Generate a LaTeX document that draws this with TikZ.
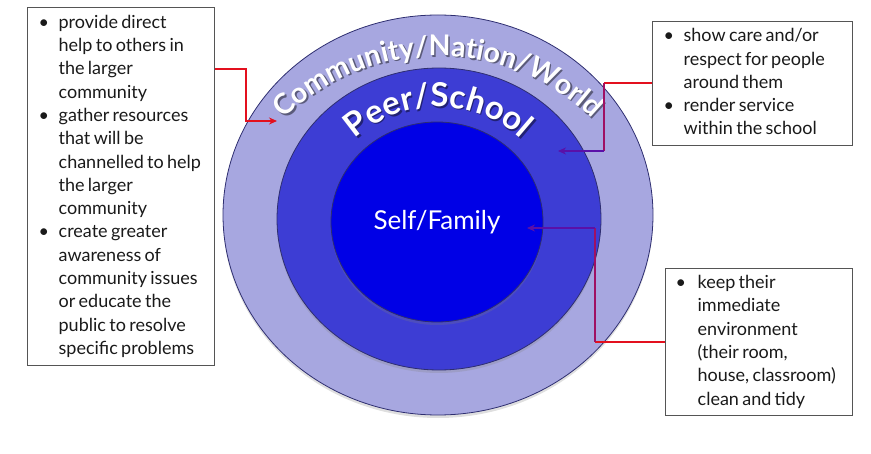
\documentclass[tikz,border=0pt]{standalone}
\usepackage{fontspec}
\setmainfont{Lato}
\usetikzlibrary{decorations.text,shadows,arrows.meta,shapes.geometric}
\definecolor{ringA}{HTML}{A7A7E0}
\definecolor{ringB}{HTML}{3D3DD4}
\definecolor{ringC}{HTML}{0000E6}
\definecolor{ringline}{HTML}{2E2E70}
\definecolor{arrred}{HTML}{E3101E}
\definecolor{arrpur}{HTML}{5A10A8}
\definecolor{boxline}{HTML}{555555}
\definecolor{txt}{HTML}{1A1A1A}
\newcommand{\boxfont}{\fontsize{18}{23.3}\selectfont}
\begin{document}
\begin{tikzpicture}[x=1pt,y=1pt,
  ring/.style={ellipse, draw=ringline, line width=0.8pt, inner sep=0pt,
    drop shadow={shadow xshift=0pt, shadow yshift=-3pt, opacity=0.25}},
  infobox/.style={draw=boxline, line width=1.3pt, fill=white, inner ysep=3pt,
    anchor=north west, text=txt, align=left},
  link/.style={line width=1.4pt},
  tip/.style={-{Stealth[length=8pt,width=7pt]}}
]
\useasboundingbox (0,0) rectangle (871,453);

% rings
\node[ring, fill=ringA, minimum width=430pt, minimum height=400pt] (outer) at (438,238) {};
\node[ring, fill=ringB, minimum width=324pt, minimum height=302pt] (middle) at (439,234) {};
\node[ring, fill=ringC, minimum width=212pt, minimum height=200pt, text=white,
  font=\fontsize{26}{28}\selectfont] (inner) at (437,231) {Self/Family};

% curved labels (shadow, then text)
\begin{scope}[opacity=0.45]
\path[decorate, decoration={text along path, text align=center,
  text={|\fontsize{28.5}{30}\selectfont\bfseries\color{black}|Community/Nation/World}}]
  (439.5,175.5) ++(150:220) arc[start angle=150, end angle=30, radius=220];
\path[decorate, decoration={text along path, text align=center,
  text={|\fontsize{33}{34}\selectfont\bfseries\color{black}|Peer/School}}]
  (439.5,221.5) ++(155:123) arc[start angle=155, end angle=25, radius=123];
\end{scope}
\path[decorate, decoration={text along path, text align=center,
  text={|\fontsize{28.5}{30}\selectfont\bfseries\color{white}|Community/Nation/World}}]
  (438,177) ++(150:220) arc[start angle=150, end angle=30, radius=220];
\path[decorate, decoration={text along path, text align=center,
  text={|\fontsize{33}{34}\selectfont\bfseries\color{white}|Peer/School}}]
  (438,223) ++(155:123) arc[start angle=155, end angle=25, radius=123];

% boxes
\node[infobox, text width=165pt, inner xsep=11pt, minimum height=358pt] (L) at (27,446)
{\boxfont\begin{tabular}{@{}p{20pt}@{}l@{}}
\textbullet & provide direct\\
 & help to others in\\
 & the larger\\
 & community\\
\textbullet & gather resources\\
 & that will be\\
 & channelled to help\\
 & the larger\\
 & community\\
\textbullet & create greater\\
 & awareness of\\
 & community issues\\
 & or educate the\\
 & public to resolve\\
 & specific problems
\end{tabular}};

\node[infobox, text width=178pt, inner xsep=11pt, minimum height=124pt] (TR) at (652,432)
{\boxfont\begin{tabular}{@{}p{20pt}@{}l@{}}
\textbullet & show care and/or\\
 & respect for people\\
 & around them\\
\textbullet & render service\\
 & within the school
\end{tabular}};

\node[infobox, text width=167pt, inner xsep=10pt, minimum height=147pt] (BR) at (665,185)
{\boxfont\begin{tabular}{@{}p{22pt}@{}l@{}}
\textbullet & keep their\\
 & immediate\\
 & environment\\
 & (their room,\\
 & house, classroom)\\
 & clean and tidy
\end{tabular}};

% connector points
\coordinate (s1) at (L.east |- 0,384);
\coordinate (k1) at (246,332);
\coordinate (t1) at (277,332);
\coordinate (s2) at (TR.west |- 0,370);
\coordinate (k2a) at (604,370);
\coordinate (k2b) at (604,302);
\coordinate (t2) at (558,302);
\coordinate (s3) at (BR.west |- 0,111);
\coordinate (k3a) at (595,111);
\coordinate (k3b) at (595,225);
\coordinate (t3) at (527,225);

\draw[link, arrred, tip] (s1) -| (k1) -- (t1);

\draw[link, arrred] (s2) -- (k2a);
\draw[link, arrred!50!arrpur] (k2a) -- (k2b);
\draw[link, arrpur, tip] (k2b) -- (t2);

\draw[link, arrred] (s3) -- (k3a);
\draw[link, arrred!50!arrpur] (k3a) -- (k3b);
\draw[link, arrpur, tip] (k3b) -- (t3);
\end{tikzpicture}
\end{document}
